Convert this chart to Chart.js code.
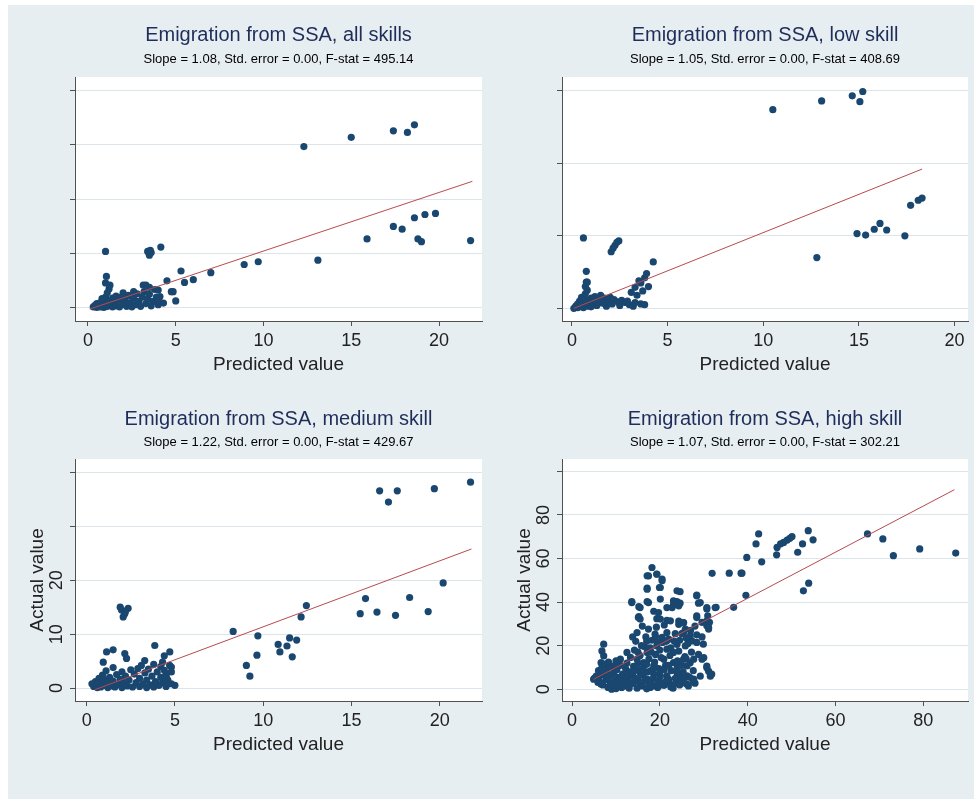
<!DOCTYPE html>
<html>
<head>
<meta charset="utf-8">
<script src="https://cdn.jsdelivr.net/npm/chart.js@4.4.1/dist/chart.umd.min.js"></script>
<style>
  html, body { margin: 0; padding: 0; width: 974px; height: 799px; overflow: hidden; background: #fff; }
  #fondo { position: absolute; left: 8px; top: 5px; width: 966px; height: 794px; background: #e7eef1; }
  canvas { position: absolute; }
</style>
</head>
<body>
<div id="fondo"></div>
<canvas id="panel-todos"></canvas>
<canvas id="panel-baja"></canvas>
<canvas id="panel-media"></canvas>
<canvas id="panel-alta"></canvas>
<script>
// datos

const titulos = [
  'Emigration from SSA, all skills',
  'Emigration from SSA, low skill',
  'Emigration from SSA, medium skill',
  'Emigration from SSA, high skill'
]

const subtitulos = [
  'Slope = 1.08, Std. error = 0.00, F-stat = 495.14',
  'Slope = 1.05, Std. error = 0.00, F-stat = 408.69',
  'Slope = 1.22, Std. error = 0.00, F-stat = 429.67',
  'Slope = 1.07, Std. error = 0.00, F-stat = 302.21'
]

const tituloX = 'Predicted value'
const tituloY = 'Actual value'

const ticksXChicos = [0, 5, 10, 15, 20]
const ticksXAlta = [0, 20, 40, 60, 80]
const ticksYTodos = [0, 10, 20, 30, 40]
const ticksYBaja = [0, 10, 20, 30]
const ticksYMedia = [0, 10, 20, 30, 40]
const etiquetasYMedia = ['0', '10', '20', '', '']
const ticksYAlta = [0, 20, 40, 60, 80, 100]
const etiquetasYAlta = ['0', '20', '40', '60', '80', '']

// rectas ajustadas (predicho, real)
const rectaTodosX = [0.1, 21.9]
const rectaTodosY = [-0.2, 23.3]
const rectaBajaX = [0.1, 18.3]
const rectaBajaY = [0.0, 19.2]
const rectaMediaX = [0.47, 21.8]
const rectaMediaY = [-0.3, 25.8]
const rectaAltaX = [4.9, 87.1]
const rectaAltaY = [4.6, 91.6]

// puntos [predicho, real]
const puntosTodos = [
  [0.3,0.2],[0.4,0.5],[0.5,0.1],[0.5,0.8],[0.6,0.3],[0.7,1.0],[0.7,0.2],[0.8,0.6],[0.9,1.4],[0.9,0.1],
  [1.0,2.0],[1.0,0.8],[1.1,2.8],[1.1,0.3],[1.2,3.5],[1.2,1.2],[1.3,0.5],[1.4,1.8],[1.4,0.2],[1.5,1.0],
  [1.6,2.2],[1.6,0.4],[1.7,1.4],[1.8,0.2],[1.9,2.0],[2.0,0.7],[2.1,1.5],[2.2,0.3],[2.3,2.3],[2.4,1.0],
  [2.5,0.2],[2.6,1.8],[2.7,0.6],[2.8,2.6],[2.9,1.2],[3.0,0.3],[3.1,2.0],[3.2,3.0],[3.3,0.8],[3.4,1.6],
  [3.5,2.5],[3.6,0.4],[3.7,1.2],[3.8,3.4],[3.9,2.0],[4.0,0.6],[4.1,1.0],[3.5,3.8],[2.0,2.8],[2.6,3.0],
  [0.8,1.7],[1.0,4.6],[1.05,5.8],[3.3,4.2],[4.0,3.3],[4.1,2.1],[4.75,3.0],
  [12.3,29.7],[15.0,31.4],[17.4,32.6],[18.2,32.3],[18.6,33.7],[19.2,17.2],[19.8,17.4],[18.6,16.6],
  [17.4,15.0],[17.9,14.5],[18.8,12.7],[19.0,12.2],[15.9,12.7],[21.8,12.4],[13.1,8.8],[9.7,8.5],
  [8.9,8.0],[7.0,6.5],[5.3,6.8],[6.0,5.2],[5.5,4.7],[5.0,1.3],[4.5,5.0],[4.85,3.0],[4.15,11.2],
  [3.4,10.4],[3.6,10.2],[3.5,9.7],[3.55,10.6],[1.0,10.4],[1.25,4.2],[3.15,4.2],[4.0,1.5],[4.3,0.9]
]

const puntosBaja = [
  [0.1,0.0],[0.2,0.3],[0.3,0.1],[0.3,0.6],[0.4,0.2],[0.4,1.0],[0.5,0.4],[0.5,1.5],[0.6,0.1],[0.6,0.8],
  [0.7,2.0],[0.7,3.0],[0.7,1.2],[0.8,0.3],[0.8,2.5],[0.75,3.6],[0.9,0.6],[1.0,1.4],[1.0,0.2],[1.1,0.9],
  [1.2,1.6],[1.3,0.4],[1.4,1.2],[1.5,1.8],[1.6,0.7],[1.7,1.4],[1.8,0.3],[1.9,1.1],[2.0,1.5],[2.1,0.6],
  [2.2,1.2],[2.4,0.9],[2.5,0.4],[2.6,1.1],[2.8,0.8],[3.0,0.5],[2.9,1.0],[3.2,0.3],[3.3,0.8],[3.6,0.6],
  [3.8,0.5],[3.1,2.2],[3.4,1.8],[3.3,2.9],[3.6,3.5],[3.8,4.2],[4.0,3.0],[3.7,2.4],[3.5,3.8],[3.9,4.8],
  [10.5,27.4],[13.05,28.6],[14.65,29.3],[15.05,28.5],[15.2,29.9],[14.9,10.3],[15.35,10.1],[15.8,10.9],
  [16.1,11.7],[16.45,10.8],[17.4,10.0],[17.7,14.2],[18.1,14.9],[18.3,15.2],[12.8,7.0],[0.6,9.7],
  [2.05,7.8],[2.15,8.3],[2.25,8.7],[2.35,9.1],[2.45,9.3],[4.25,6.4],[0.75,5.1],[0.8,3.6]
]

const puntosMedia = [
  [0.3,0.8],[0.4,0.3],[0.5,1.2],[0.6,0.1],[0.6,0.6],[0.7,1.8],[0.8,0.2],[0.8,1.0],[0.9,2.4],[1.0,0.5],
  [1.0,1.5],[1.1,3.2],[1.2,0.1],[1.2,0.9],[1.3,2.0],[1.4,0.4],[1.5,1.3],[1.5,3.8],[1.6,0.2],[1.7,2.5],
  [1.8,0.7],[1.9,1.6],[2.0,0.1],[2.0,3.0],[2.1,1.0],[2.2,2.2],[2.3,0.4],[2.4,1.5],[2.5,3.4],[2.6,0.2],
  [2.7,2.6],[2.8,1.0],[2.9,3.6],[3.0,0.3],[3.0,1.8],[3.1,4.2],[3.2,0.8],[3.3,2.8],[3.4,0.1],[3.4,1.5],
  [3.5,3.5],[3.6,0.6],[3.7,2.2],[3.8,4.4],[3.8,0.2],[3.9,1.2],[4.0,3.0],[4.1,0.5],[4.2,2.0],[4.2,4.0],
  [4.3,1.0],[4.4,3.3],[4.5,0.3],[4.5,2.6],[4.6,1.5],[4.7,4.2],[4.8,3.0],[4.8,0.8],
  [1.13,6.7],[1.5,7.1],[2.16,6.4],[2.26,5.5],[0.94,4.8],[3.86,7.9],[3.29,5.1],[4.71,6.7],[4.4,6.0],
  [4.3,4.8],[4.8,3.9],[5.0,0.5],[4.52,2.0],[1.98,14.5],[2.35,14.8],[2.07,13.2],[2.16,13.8],[1.9,15.0],[2.2,14.2],
  [16.6,36.6],[17.1,34.5],[17.6,36.6],[19.7,37.0],[21.75,38.2],[20.2,19.5],[18.3,16.8],[15.8,16.6],
  [15.5,13.8],[16.45,14.1],[17.5,13.5],[19.35,14.2],[12.45,15.3],[12.15,13.2],[8.3,10.5],[9.7,9.7],
  [9.65,6.1],[9.05,4.2],[9.25,2.2],[10.85,8.1],[10.95,6.7],[11.35,7.8],[11.5,9.3],[11.9,8.9],[11.65,5.8]
]

const puntosAlta = [
  [67.3,71.3],[70.8,69.0],[73.2,61.3],[79.2,64.4],[87.4,62.5],
  [52.7,45.2],[53.9,48.7],[53.8,72.8],[54.9,68.6],[52.5,66.7],[51.4,62.9],
  [50.1,70.1],[49.6,69.3],[49.0,68.5],[48.2,67.4],[47.5,66.7],[46.7,65.1],[46.6,61.7],
  [42.5,71.3],[41.9,66.7],[39.8,60.5],[43.2,58.5],[38.7,53.3],[39.6,43.1],
  [31.9,53.2],[35.8,53.3],[38.5,53.3],[36.8,37.6],[32.8,37.6],
  [30.7,36.8],[30.9,33.7],[31.3,30.7],[31.1,27.6],[28.4,43.2],[28.8,39.5],
  [30.7,10.6],[31.1,8.3],[31.5,6.0],
  [18.2,55.9],[17.1,52.1],[19.3,52.9],[20.5,50.6],[17.1,46.4],[19.9,46.7],[13.6,40.2],[15.2,37.9],
  [17.1,40.2],[15.2,33.3],[18.6,35.8],[19.3,32.4],[23.1,38.8],[23.9,40.2],[24.6,39.5],[24.6,44.8],
  [24.3,31.3],[25.4,30.5],[21.6,31.6],[28.4,33.7],[29.6,30.7],[30.7,29.2],
  [7.2,20.7],[6.8,17.6],[7.2,15.3],[6.6,12.2],[4.9,4.6],[11.0,13.8],[13.3,14.6],[14.8,26.0],
  [17.4,27.6],[15.5,32.2],[20.1,32.2],[18.9,25.3],[20.5,23.8],[22.4,31.4],[24.3,29.8],[25.4,30.6],
  [23.9,20.6],[25.8,19.9],[27.3,22.2],[28.4,21.5],[29.9,20.7],[29.6,13.8],[30.7,9.9],[31.8,6.9],
  [27.7,4.6],[26.2,6.1],[24.6,6.1],[20.1,6.1],[17.1,4.6],[14.0,3.1],[11.0,3.1],[8.7,2.3],[6.4,3.1],
  [19.3,1.5],[22.4,2.3],[17.8,0.8],[14.8,13.8],[17.1,16.9],[19.3,19.9],[21.6,18.4],[23.1,16.9],
  [12.5,16.9],[16.3,12.2],[18.6,10.7],[20.9,13.8],[23.1,12.2],[25.4,13.8],[26.9,12.2],[15.5,7.6],
  [18.6,6.9],[21.6,6.1],[23.9,7.6],[26.2,10.7],[27.7,13.8],[13.6,39.8],[15.5,37.5],[17.4,39.8],
  [17.1,45.9],[20.1,46.7],[19.3,52.8],[20.5,49.8],[17.4,52.0],[15.1,32.9],[23.9,45.2],[23.1,40.6],
  [24.3,38.3],[22.8,37.5],[28.4,42.9],[29.2,39.8],[30.7,37.5],[32.6,37.5],[28.4,32.9],[30.7,31.4],
  [31.1,28.4],[20.1,41.4],[21.6,37.5],[19.7,35.2],[25.4,26.0],[26.9,24.5],[25.8,27.6],
  [5.5,6.0],[6.0,8.5],[6.2,4.0],[6.8,10.0],[7.0,2.0],[7.2,6.5],[7.5,11.5],[7.8,4.5],[8.0,8.8],
  [8.2,0.8],[8.5,6.0],[8.8,3.0],[9.0,10.5],[9.2,1.2],[9.5,7.5],[9.8,4.0],[10.0,0.3],[10.2,9.0],
  [10.5,5.5],[10.8,2.0],[11.0,11.0],[11.3,0.8],[11.5,7.0],[11.8,4.0],[12.0,1.5],[12.2,9.5],[12.5,12.0],
  [12.8,5.0],[13.0,0.5],[13.2,8.0],[5.2,5.2],[6.5,7.0],[8.3,12.5],[10.0,13.0],[9.0,0.0],
  [5.9,3.1],[6.6,2.3],[8.4,1.2],[10.0,0.8],
  [13.5,2.5],[13.8,6.0],[14.0,10.5],[14.2,18.0],[14.5,22.0],[14.8,0.5],[15.0,4.5],[15.2,9.0],
  [15.5,15.5],[15.8,20.0],[16.0,1.5],[16.2,6.5],[16.5,11.0],[16.8,24.0],[17.0,0.2],[17.2,8.0],
  [17.5,14.0],[17.8,19.0],[18.0,2.5],[18.2,22.5],[18.5,5.0],[18.8,12.5],[19.0,16.0],[19.2,28.5],
  [19.5,0.8],[19.8,9.5],[20.0,3.5],[20.3,14.5],[20.6,21.5],[21.0,1.8],[21.3,11.0],[21.6,26.0],
  [22.0,4.5],[22.3,15.5],[22.6,8.5],[23.0,0.5],[23.3,22.0],[23.6,2.8],[24.0,10.0],[24.3,17.5],
  [24.7,4.0],[25.0,25.5],[25.3,8.0],[25.7,15.0],[26.0,2.5],[26.4,21.0],[26.8,5.5],[27.2,17.0],
  [27.6,8.5],[28.0,2.8],[28.4,25.0],[28.8,16.0],[29.2,6.0],[29.6,24.0],[30.0,14.5],[16.0,29.0],
  [21.0,29.5],[13.8,24.0],[22.0,23.0],[19.0,24.0],
  [9.5,2.0],[10.5,3.5],[11.5,2.5],[12.5,3.0],[8.0,5.0],[9.0,6.5],[11.0,5.0],[12.0,6.5],[7.0,9.0],
  [8.5,10.5],[6.0,5.5],[10.0,11.5],[14.5,5.0],[15.5,2.0],[16.5,4.0],[17.5,2.5],[18.5,1.5],[19.5,4.0],
  [20.5,2.0],[21.5,4.0],[22.5,1.0],[23.5,5.0],[24.5,2.0],[25.5,5.0],[26.5,1.5],[27.5,3.5],
  [14.0,8.0],[15.0,12.0],[16.0,9.5],[17.0,11.5],[18.0,8.5],[19.0,10.0],[20.0,8.0],[21.0,9.0],
  [22.0,11.0],[24.0,13.0],[25.0,11.0],[26.0,14.0],[15.0,17.0],[16.5,19.5],[18.0,17.0],[20.0,18.0],
  [21.5,22.0],[22.5,19.0],[24.5,22.5],[17.0,22.0],[19.5,21.5],[23.5,25.5],[26.0,23.5],[27.0,27.0],[28.0,29.0]
]

// estilo

const fuente = "'Liberation Sans', Arial, sans-serif"
const azul = '#1a476f'
const rojo = '#b84a4f'
const grisEje = '#505050'

const fondoBlanco = {
  id: 'fondoBlanco',
  beforeDraw(chart) {
    const { ctx, chartArea: a } = chart
    ctx.save()
    ctx.fillStyle = '#fff'
    ctx.fillRect(a.left, a.top, a.right - a.left, a.bottom - a.top)
    ctx.restore()
  }
}

// paneles

function crearPanel(id, p) {
  const $canvas = document.getElementById(id)
  $canvas.width = p.ancho
  $canvas.height = p.alto
  $canvas.style.left = p.x + 'px'
  $canvas.style.top = p.y + 'px'

  return new Chart($canvas, {
    type: 'scatter',
    data: {
      datasets: [
        {
          data: p.recta[0].map((x, i) => ({ x, y: p.recta[1][i] })),
          showLine: true,
          borderColor: rojo,
          borderWidth: 1,
          pointRadius: 0,
          order: 0
        },
        {
          data: p.puntos.map(([x, y]) => ({ x, y })),
          backgroundColor: azul,
          borderWidth: 0,
          pointRadius: 3.6,
          order: 1
        }
      ]
    },
    options: {
      responsive: false,
      animation: false,
      devicePixelRatio: 1,
      layout: { padding: 0 },
      plugins: {
        legend: { display: false },
        tooltip: { enabled: false },
        title: {
          display: true,
          text: p.titulo,
          color: '#1f2d5a',
          font: { family: fuente, size: 20, weight: 'normal' },
          padding: { top: p.padTitulo[0], bottom: p.padTitulo[1] }
        },
        subtitle: {
          display: true,
          text: p.subtitulo,
          color: '#000',
          font: { family: fuente, size: 13, weight: 'normal' },
          padding: { top: 0, bottom: p.espacioSub }
        }
      },
      scales: {
        x: {
          type: 'linear',
          min: p.xMin,
          max: p.xMax,
          afterBuildTicks: s => { s.ticks = p.ticksX.map(v => ({ value: v })) },
          afterFit: s => { s.height = 60 },
          border: { display: true, color: grisEje, width: 1 },
          grid: { display: true, drawOnChartArea: false, drawTicks: true, tickLength: 5, tickColor: grisEje },
          ticks: { color: '#222', font: { family: fuente, size: 18 }, padding: 4, maxRotation: 0, autoSkip: false },
          title: { display: true, text: tituloX, color: '#222', font: { family: fuente, size: 19 }, padding: { top: 0, bottom: 4.6 } }
        },
        y: {
          type: 'linear',
          position: 'left',
          min: p.yMin,
          max: p.yMax,
          afterBuildTicks: s => { s.ticks = p.ticksY.map(v => ({ value: v })) },
          afterFit: s => { s.width = p.ejeIzq },
          border: { display: true, color: grisEje, width: 1 },
          grid: { display: true, color: '#dbe5ea', lineWidth: 1, drawTicks: true, tickLength: 5, tickColor: grisEje },
          ticks: {
            display: !!p.etiquetasY,
            callback: (v, i) => p.etiquetasY ? p.etiquetasY[i] : '',
            color: '#222',
            font: { family: fuente, size: 18 },
            minRotation: 90,
            maxRotation: 90,
            crossAlign: 'center',
            padding: 3,
            autoSkip: false
          },
          title: {
            display: !!p.etiquetasY,
            text: tituloY,
            color: '#222',
            font: { family: fuente, size: 19 },
            padding: { top: p.padTituloY || 0, bottom: 0 }
          }
        },
        margen: {
          type: 'linear',
          position: 'right',
          display: true,
          afterFit: s => { s.width = p.ejeDer },
          border: { display: false },
          grid: { display: false },
          ticks: { display: false }
        }
      }
    },
    plugins: [fondoBlanco]
  })
}

crearPanel('panel-todos', {
  x: 0, y: 0, ancho: 557, alto: 381, ejeIzq: 75, ejeDer: 75, padTitulo: [23, 4.2], espacioSub: 10.2,
  titulo: titulos[0], subtitulo: subtitulos[0],
  puntos: puntosTodos, recta: [rectaTodosX, rectaTodosY],
  xMin: -0.74, xMax: 22.45, ticksX: ticksXChicos,
  yMin: -2.4, yMax: 42.5, ticksY: ticksYTodos
})

crearPanel('panel-baja', {
  x: 556, y: 0, ancho: 418, alto: 381, ejeIzq: 6, ejeDer: 6, padTitulo: [23, 4.2], espacioSub: 10.2,
  titulo: titulos[1], subtitulo: subtitulos[1],
  puntos: puntosBaja, recta: [rectaBajaX, rectaBajaY],
  xMin: -0.52, xMax: 20.7, ticksX: ticksXChicos,
  yMin: -1.75, yMax: 31.9, ticksY: ticksYBaja
})

crearPanel('panel-media', {
  x: 0, y: 387, ancho: 557, alto: 374, ejeIzq: 75, ejeDer: 75, padTitulo: [20, 3.2], espacioSub: 9.2,
  titulo: titulos[2], subtitulo: subtitulos[2],
  puntos: puntosMedia, recta: [rectaMediaX, rectaMediaY],
  xMin: -0.66, xMax: 22.4, ticksX: ticksXChicos,
  yMin: -2.4, yMax: 42.5, ticksY: ticksYMedia, etiquetasY: etiquetasYMedia, padTituloY: 26.6
})

crearPanel('panel-alta', {
  x: 512, y: 387, ancho: 506, alto: 374, ejeIzq: 50, ejeDer: 50, padTitulo: [20, 3.2], espacioSub: 9.2,
  titulo: titulos[3], subtitulo: subtitulos[3],
  puntos: puntosAlta, recta: [rectaAltaX, rectaAltaY],
  xMin: -2.3, xMax: 90.2, ticksX: ticksXAlta,
  yMin: -5.4, yMax: 105.7, ticksY: ticksYAlta, etiquetasY: etiquetasYAlta, padTituloY: 1.6
})
</script>
</body>
</html>
